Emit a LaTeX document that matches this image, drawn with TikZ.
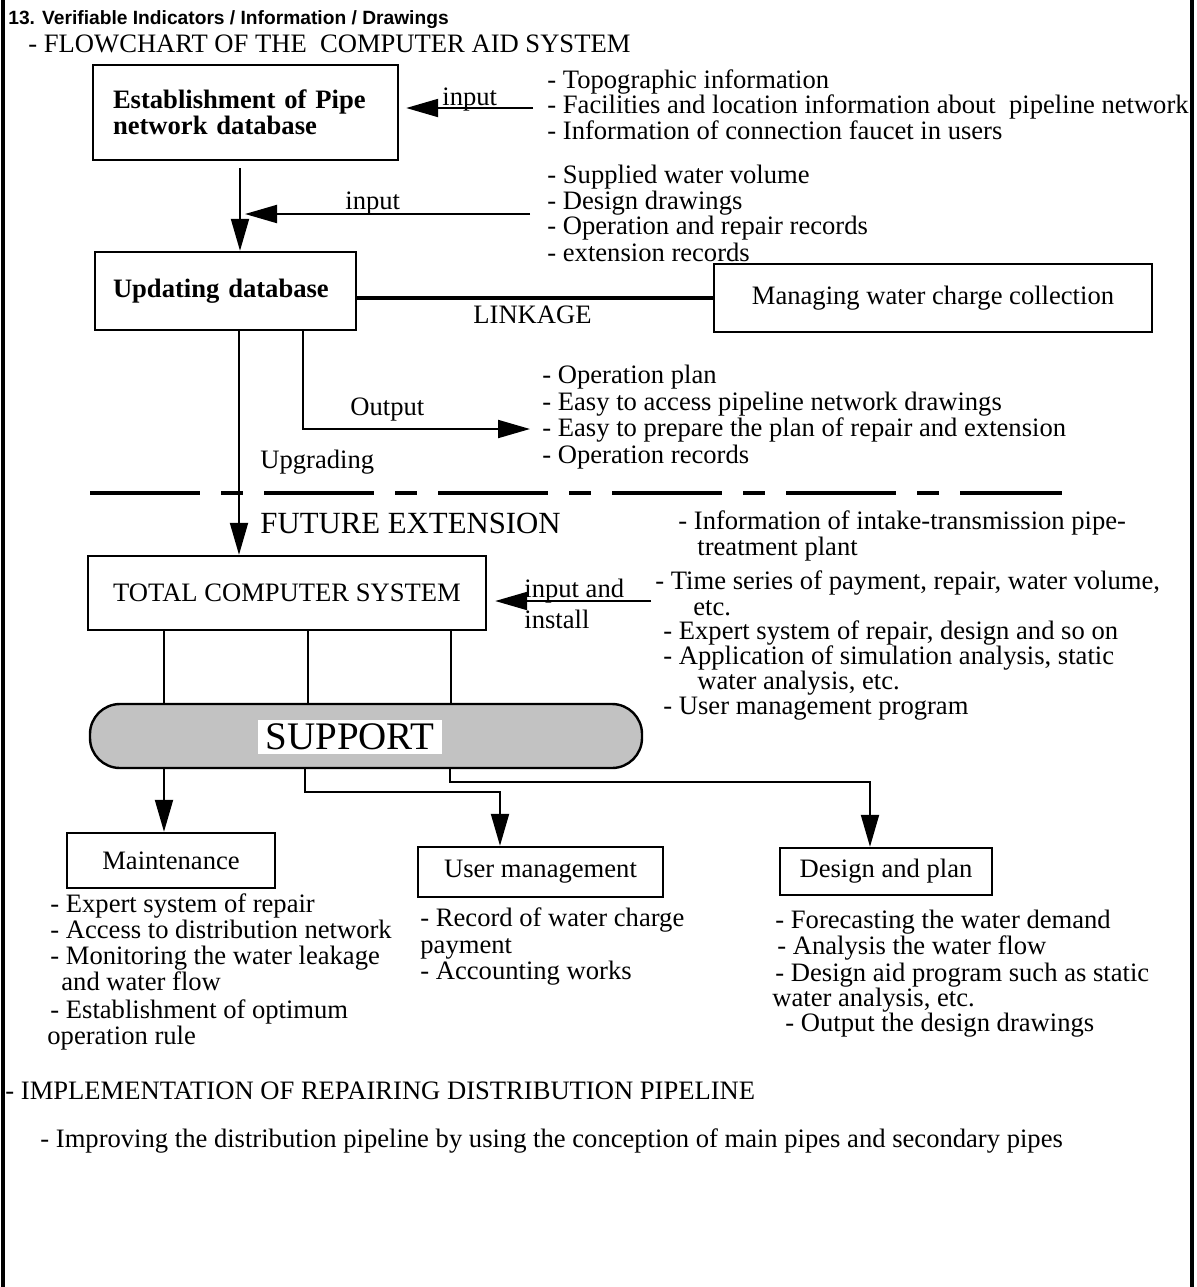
\documentclass[tikz,border=0pt]{standalone}
\usepackage{fontspec}
\setmainfont{Liberation Serif}
\setsansfont{Liberation Sans}
\usetikzlibrary{arrows.meta}
\newcommand\bodyfnt{\fontsize{13.3pt}{13pt}\selectfont}
\begin{document}
\begin{tikzpicture}[x=0.5pt,y=-0.5pt,
  every node/.style={font=\bodyfnt},
  box/.style={draw,line width=1.2pt,inner sep=0pt},
  lbl/.style={anchor=west,inner sep=0pt,text height=9pt,text depth=3pt},
  conn/.style={line width=0.9pt},
  arr/.style={line width=1pt,-{Triangle[length=16pt,width=9pt]}},
  linkline/.style={line width=2pt},
  sepline/.style={line width=2.2pt,dash pattern=on 55pt off 10.5pt on 11pt off 10.5pt},
]
\useasboundingbox (0,0) rectangle (1197,1287);
% frame
\draw[line width=1.6pt] (3,0) -- (3,1287);
\draw[line width=1.6pt] (1192,0) -- (1192,1287);

% headings
\node[lbl,font={\sffamily\bfseries\fontsize{9.6pt}{11pt}\selectfont}] (title) at (8,18) {13. Verifiable Indicators / Information / Drawings};
\node[lbl] (flow) at (28,46) {- FLOWCHART OF THE\ \ COMPUTER AID SYSTEM};

% box 1
\node[box,minimum width=152.5pt,minimum height=47.5pt,text width=132.5pt,align=left,font={\bodyfnt\bfseries}] (b1) at (245.5,112.5) {Establishment of Pipe\\network database};
\coordinate (in1) at (533,108);
\draw[arr,shorten >=3.5pt] (in1) -- (in1 -| b1.east);
\node[lbl] (in1l) at (442,99) {input};
\node[lbl] (g1a) at (547,82) {- Topographic information};
\node[lbl] (g1b) at (547,107) {- Facilities and location information about\ \ pipeline network};
\node[lbl] (g1c) at (547,133) {- Information of connection faucet in users};

% box 2
\node[box,minimum width=130.5pt,minimum height=39pt,text width=112.5pt,align=left,font={\bodyfnt\bfseries}] (b2) at (225.5,291) {Updating database};
\coordinate (v1) at (240,0);
\draw[arr,shorten <=3.5pt] (b1.south -| v1) -- (b2.north -| v1);
\coordinate (in2) at (530,214);
\draw[arr,shorten >=2.5pt] (in2) -- (in2 -| v1);
\node[lbl] (in2l) at (345,203) {input};
\node[lbl] (g2a) at (547,177) {- Supplied water volume};
\node[lbl] (g2b) at (547,203) {- Design drawings};
\node[lbl] (g2c) at (547,228) {- Operation and repair records};
\node[lbl] (g2d) at (547,255) {- extension records};

% managing box and linkage
\node[box,minimum width=219pt,minimum height=34pt] (mw) at (933,298) {Managing water charge collection};
\draw[linkline] (b2.east |- mw.west) -- (mw.west);
\node[lbl] (link) at (473,317) {LINKAGE};

% total computer system
\node[box,minimum width=199pt,minimum height=37pt] (tot) at (287,593) {TOTAL COMPUTER SYSTEM};
\coordinate (v2) at (239,0);
\draw[arr] (b2.south -| v2) -- (tot.north -| v2);

% output
\coordinate (o1) at (303,0);
\coordinate (oe) at (530,429);
\draw[arr] (b2.south -| o1) |- (oe);
\node[lbl] (outl) at (350,409) {Output};
\node[lbl] (upg) at (260,462) {Upgrading};
\node[lbl] (g3a) at (542,377) {- Operation plan};
\node[lbl] (g3b) at (542,404) {- Easy to access pipeline network drawings};
\node[lbl] (g3c) at (542,430) {- Easy to prepare the plan of repair and extension};
\node[lbl] (g3d) at (542,457) {- Operation records};

% separator
\draw[sepline] (90,493) -- (1062,493);
\node[lbl,font={\fontsize{15.4pt}{16pt}\selectfont}] (fut) at (260,527) {FUTURE EXTENSION};

% input and install
\coordinate (in3) at (651,601);
\draw[arr,shorten >=4pt] (in3) -- (in3 -| tot.east);
\node[lbl] (in3a) at (524,591) {input and};
\node[lbl] (in3b) at (524,622) {install};
\node[lbl] (g4a) at (678,523) {- Information of intake-transmission pipe-};
\node[lbl] (g4b) at (697,549) {treatment plant};
\node[lbl] (g4c) at (655,583) {- Time series of payment, repair, water volume,};
\node[lbl] (g4d) at (693,609) {etc.};
\node[lbl] (g4e) at (663,633) {- Expert system of repair, design and so on};
\node[lbl] (g4f) at (663,658) {- Application of simulation analysis, static};
\node[lbl] (g4g) at (697,683) {water analysis, etc.};
\node[lbl] (g4h) at (663,708) {- User management program};

% support
\node[draw,line width=1.2pt,rounded corners=15pt,fill=black!24,minimum width=276pt,minimum height=32pt,inner sep=0pt] (sup) at (366,736) {};
\node[fill=white,inner xsep=4pt,inner ysep=2pt,font={\fontsize{19.5pt}{20pt}\selectfont}] (supt) at (350,737) {SUPPORT};
\foreach \x/\n in {164/a,308/b,451/c}{
  \coordinate (t\n) at (\x,0);
  \draw[conn] (tot.south -| t\n) -- (sup.north -| t\n);
}

% bottom boxes
\node[box,minimum width=104pt,minimum height=27.5pt] (mt) at (171,860.5) {Maintenance};
\node[box,minimum width=122.5pt,minimum height=25pt] (um) at (540.5,872) {User management};
\node[box,minimum width=106pt,minimum height=23.5pt] (dp) at (886,871.5) {Design and plan};

\coordinate (sa) at (164,0);
\draw[arr] (sup.south -| sa) -- (mt.north -| sa);
\coordinate (sb1) at (305,0);
\coordinate (sb2) at (500,792);
\draw[arr] (sup.south -| sb1) |- (sb2) -- (um.north -| sb2);
\coordinate (sc1) at (450,0);
\coordinate (sc2) at (870,782);
\draw[arr] (sup.south -| sc1) |- (sc2) -- (dp.north -| sc2);

% maintenance list
\node[lbl] (m1) at (50,906) {- Expert system of repair};
\node[lbl] (m2) at (50,932) {- Access to distribution network};
\node[lbl] (m3) at (50,958) {- Monitoring the water leakage};
\node[lbl] (m4) at (61,984) {and water flow};
\node[lbl] (m5) at (50,1012) {- Establishment of optimum};
\node[lbl] (m6) at (47,1038) {operation rule};

% user list
\node[lbl] (u1) at (420,920) {- Record of water charge};
\node[lbl] (u2) at (420,947) {payment};
\node[lbl] (u3) at (420,973) {- Accounting works};

% design list
\node[lbl] (d1) at (775,922) {- Forecasting the water demand};
\node[lbl] (d2) at (777,948) {- Analysis the water flow};
\node[lbl] (d3) at (775,975) {- Design aid program such as static};
\node[lbl] (d4) at (772,1000) {water analysis, etc.};
\node[lbl] (d5) at (785,1025) {- Output the design drawings};

% implementation
\node[lbl] (impl) at (5,1093) {- IMPLEMENTATION OF REPAIRING DISTRIBUTION PIPELINE};
\node[lbl] (impr) at (40,1141) {- Improving the distribution pipeline by using the conception of main pipes and secondary pipes};
\end{tikzpicture}
\end{document}
